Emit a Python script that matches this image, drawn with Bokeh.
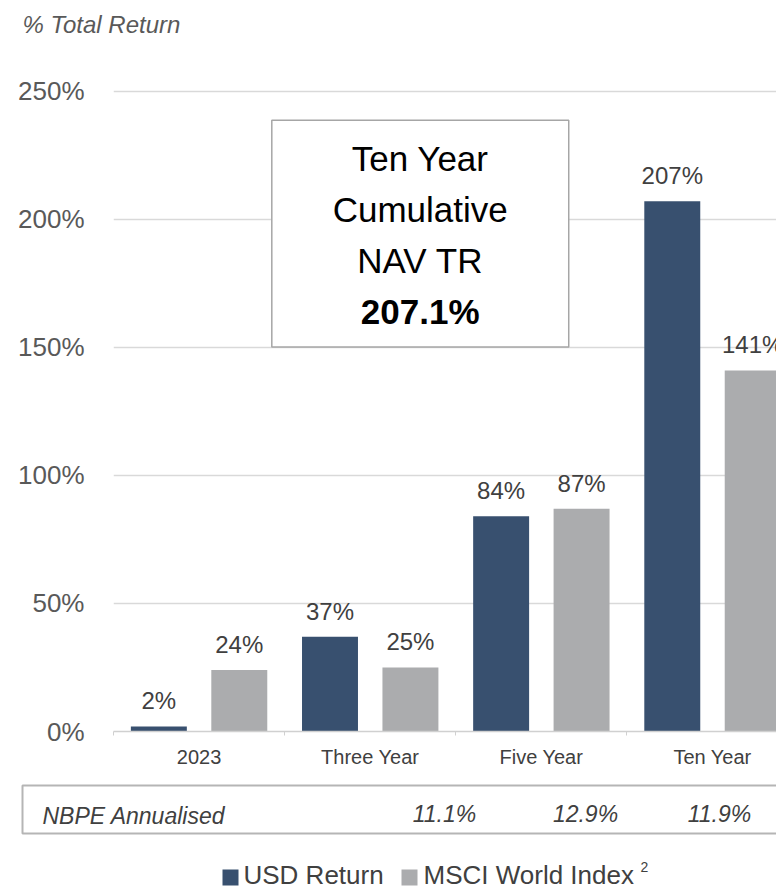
from bokeh.plotting import figure
from bokeh.models import (Range1d, FixedTicker, PrintfTickFormatter, BoxAnnotation,
                          ColumnDataSource)
from bokeh.layouts import column
from bokeh.core.properties import value
from bokeh.embed import file_html
from bokeh.resources import INLINE

# ---------------- data ----------------
categories = ["2023", "Three Year", "Five Year", "Ten Year"]
usd_return = [2, 37, 84, 207]
msci_world = [24, 25, 87, 141]
y_ticks = [0, 50, 100, 150, 200, 250]
series_names = ["USD Return", "MSCI World Index"]
series_footnote = "2"
annualised_label = "NBPE Annualised"
annualised = ["11.1%", "12.9%", "11.9%"]
callout_lines = ["Ten Year", "Cumulative", "NAV TR"]
callout_value = "207.1%"
y_title = "% Total Return"

FONT = "Liberation Sans"
BLUE = "#38506f"
GRAY = "#abacae"
TXT = "#404040"
AX = "#595959"

idx = list(range(len(categories)))
src = ColumnDataSource(dict(
    x_usd=[i + 0.5 - 0.235 for i in idx],
    x_msci=[i + 0.5 + 0.235 for i in idx],
    usd=usd_return,
    msci=msci_world,
    usd_lbl=[f"{v}%" for v in usd_return],
    msci_lbl=[f"{v}%" for v in msci_world],
))


def blank_panel(height):
    f = figure(width=776, height=height, x_range=Range1d(0, 776), y_range=Range1d(height, 0),
               output_backend="svg", toolbar_location=None,
               x_axis_type=None, y_axis_type=None,
               min_border_left=0, min_border_right=0, min_border_top=0, min_border_bottom=0)
    f.outline_line_color = None
    f.frame_align = False
    f.xgrid.grid_line_color = None
    f.ygrid.grid_line_color = None
    return f


# ---------------- header: axis title ----------------
p0 = blank_panel(46)
p0.text(x=[22], y=[24], text=[y_title], text_baseline="middle",
        text_font=value(FONT), text_font_size="24px", text_font_style="italic",
        text_color=AX)

# ---------------- main chart ----------------
p = figure(width=776, height=729, x_range=Range1d(0, 3.874), y_range=Range1d(0, 262),
           output_backend="svg", toolbar_location=None,
           min_border_left=113, min_border_right=0, min_border_top=14, min_border_bottom=44)
p.outline_line_color = None
p.frame_align = False

box = BoxAnnotation(left=0.925, right=2.66, bottom=150.1, top=238.7,
                    fill_color="white", fill_alpha=1.0,
                    line_color="#a6a6a6", line_alpha=1.0, line_width=1.5,
                    level="underlay")
p.add_layout(box)

p.vbar(x="x_usd", top="usd", width=0.327, source=src, fill_color=BLUE, line_color=None)
p.vbar(x="x_msci", top="msci", width=0.327, source=src, fill_color=GRAY, line_color=None)

for xcol, ycol, tcol in (("x_usd", "usd", "usd_lbl"), ("x_msci", "msci", "msci_lbl")):
    p.text(x=xcol, y=ycol, text=tcol, source=src, y_offset=-12,
           text_align="center", text_baseline="bottom",
           text_font=value(FONT), text_font_size="24px", text_color=TXT)

p.text(x=[1.792] * 3, y=[223.8, 203.8, 183.8], text=callout_lines,
       text_align="center", text_baseline="middle",
       text_font=value(FONT), text_font_size="35px", text_color="black")
p.text(x=[1.792], y=[163.9], text=[callout_value],
       text_align="center", text_baseline="middle",
       text_font=value(FONT), text_font_size="35px", text_font_style="bold",
       text_color="black")

# y axis
p.yaxis.ticker = FixedTicker(ticks=y_ticks)
p.yaxis.formatter = PrintfTickFormatter(format="%d%%")
p.yaxis.axis_line_color = None
p.yaxis.major_tick_line_color = None
p.yaxis.minor_tick_line_color = None
p.yaxis.major_tick_out = 0
p.yaxis.major_tick_in = 0
p.yaxis.major_label_standoff = 29
p.yaxis.major_label_text_font = FONT
p.yaxis.major_label_text_font_size = "26px"
p.yaxis.major_label_text_color = AX

p.ygrid.grid_line_color = "#d9d9d9"
p.ygrid.grid_line_width = 1.5
p.xgrid.grid_line_color = None

# x axis
p.xaxis.ticker = FixedTicker(ticks=[i + 0.5 for i in idx], minor_ticks=[0, 1, 2, 3, 4])
p.xaxis.major_label_overrides = {i + 0.5: c for i, c in zip(idx, categories)}
p.xaxis.axis_line_color = "#d0d0d0"
p.xaxis.axis_line_width = 1.5
p.xaxis.major_tick_line_color = None
p.xaxis.major_tick_out = 0
p.xaxis.major_tick_in = 0
p.xaxis.minor_tick_line_color = "#d0d0d0"
p.xaxis.minor_tick_out = 4
p.xaxis.minor_tick_in = 0
p.xaxis.major_label_standoff = 10
p.xaxis.major_label_text_font = FONT
p.xaxis.major_label_text_font_size = "20px"
p.xaxis.major_label_text_color = TXT

# ---------------- bottom: annualised row + legend ----------------
p2 = blank_panel(116)
p2.quad(left=[22], right=[800], top=[10], bottom=[58], fill_color=None,
        line_color="#b5b5b5", line_width=2)
p2.text(x=[42], y=[40], text=[annualised_label], text_baseline="middle",
        text_font=value(FONT), text_font_size="23px", text_font_style="italic",
        text_color=TXT)
p2.text(x=[444, 585, 719], y=[38, 38, 38], text=annualised, text_align="center",
        text_baseline="middle", text_font=value(FONT), text_font_size="23px",
        text_font_style="italic", text_color=TXT)

# legend
p2.rect(x=[230, 409], y=[102, 102], width=16, height=16,
        fill_color=[BLUE, GRAY], line_color=None)
p2.text(x=[243, 423], y=[99.5, 99.5], text=series_names, text_baseline="middle",
        text_font=value(FONT), text_font_size="26px", text_color=TXT)
p2.text(x=[640], y=[91], text=[series_footnote], text_baseline="middle",
        text_font=value(FONT), text_font_size="14px", text_color=TXT)

layout = column(p0, p, p2, spacing=0)
open("out.html", "w").write(file_html(layout, INLINE))
